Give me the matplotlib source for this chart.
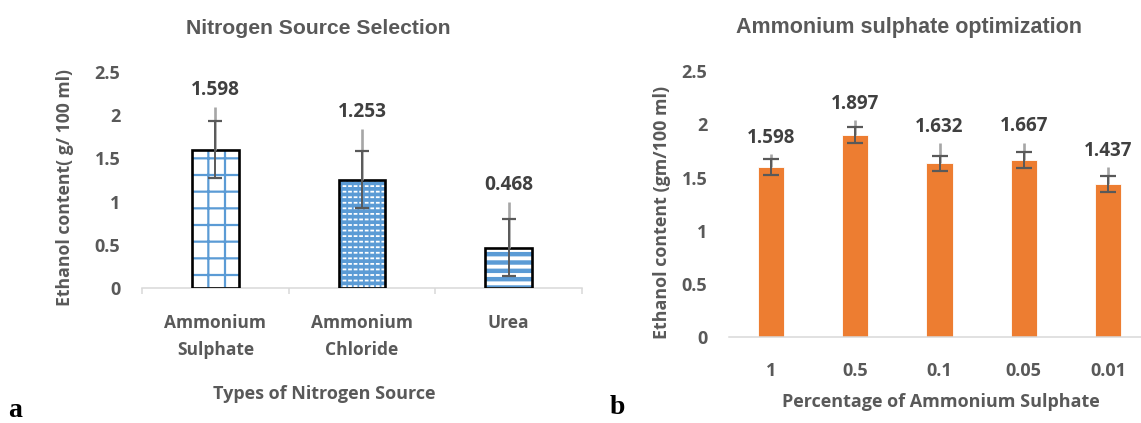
import matplotlib
matplotlib.use("Agg")
import matplotlib.pyplot as plt

# ---- data ----
sources = ["Ammonium\nSulphate", "Ammonium\nChloride", "Urea"]
source_ethanol = [1.598, 1.253, 0.468]
source_err = [0.33, 0.33, 0.33]
source_err_high = [0.50, 0.59, 0.53]

percent_labels = ["1", "0.5", "0.1", "0.05", "0.01"]
percent_ethanol = [1.598, 1.897, 1.632, 1.667, 1.437]
percent_err = [0.075, 0.075, 0.072, 0.075, 0.074]
percent_err_high = [0.12, 0.14, 0.19, 0.16, 0.16]

yticks = [0, 0.5, 1, 1.5, 2, 2.5]
ytick_labels = ["0", "0.5", "1", "1.5", "2", "2.5"]

# ---- style ----
W, H = 1141, 423
TXT = "#595959"
VAL = "#404040"
AXIS = "#d9d9d9"
BLUE = "#5b9bd5"
ORANGE = "#ed7d31"
CAP = "#595959"
LIGHT = "#a6a6a6"
SANS = ["Open Sans", "DejaVu Sans"]
HEAD = ["Liberation Sans", "DejaVu Sans"]
SERIF = ["Liberation Serif", "DejaVu Serif"]

fig = plt.figure(figsize=(W / 100, H / 100), dpi=100)


def px_axes(x0, y0, x1, y1):
    return fig.add_axes([x0 / W, 1 - y1 / H, (x1 - x0) / W, (y1 - y0) / H])


def style_axes(ax, fs):
    for s in ("top", "right", "left"):
        ax.spines[s].set_visible(False)
    ax.spines["bottom"].set_color(AXIS)
    ax.spines["bottom"].set_linewidth(1.1)
    ax.set_ylim(0, 2.5)
    ax.set_yticks(yticks)
    ax.set_yticklabels(ytick_labels, fontfamily=SANS, fontweight="bold",
                       fontsize=fs, color=TXT)
    ax.tick_params(axis="y", length=0, pad=15.5)


def hatch_lw(patch, lw):
    if hasattr(patch, "set_hatch_linewidth"):
        patch.set_hatch_linewidth(lw)


def error_bars(ax, x, vals, err, err_high, cap_w):
    # light upper whisker
    ax.vlines(x, [v for v in vals], [v + e for v, e in zip(vals, err_high)],
              color=LIGHT, lw=1.9, zorder=4)
    # dark symmetric bar with caps
    ax.errorbar(x, vals, yerr=err, fmt="none", ecolor=CAP, elinewidth=1.4,
                capsize=cap_w, capthick=1.6, zorder=5)


def value_labels(ax, x, vals, err_high, fs):
    for xi, v, e in zip(x, vals, err_high):
        ax.annotate(f"{v:.3f}", (xi, v + e), xytext=(0, 12), textcoords="offset points",
                    ha="center", va="center", fontfamily=SANS, fontweight="bold",
                    fontsize=fs, color=VAL, zorder=6)


# ================= panel a =================
ax1 = px_axes(142, 72, 582, 288)
style_axes(ax1, 13)
x1 = list(range(len(sources)))
ax1.set_xlim(-0.5, len(sources) - 0.5)
bw = 0.32

# Ammonium sulphate: blue grid on white
b = ax1.bar(x1[0], source_ethanol[0], bw, color="white", edgecolor=BLUE,
            hatch="+", linewidth=0, zorder=2)
hatch_lw(b[0], 1.6)
# Ammonium chloride: white dashes on blue
b = ax1.bar(x1[1], source_ethanol[1], bw, color=BLUE, edgecolor="white",
            hatch="---", linewidth=0, zorder=2)
hatch_lw(b[0], 1.3)
b = ax1.bar(x1[1], source_ethanol[1], bw, fill=False, edgecolor=BLUE,
            hatch="|||", linewidth=0, zorder=2)
hatch_lw(b[0], 1.3)
# Urea: blue horizontal stripes
b = ax1.bar(x1[2], source_ethanol[2], bw, color="white", edgecolor=BLUE,
            hatch="--", linewidth=0, zorder=2)
hatch_lw(b[0], 3.2)
# outlines
ax1.bar(x1, source_ethanol, bw, fill=False, edgecolor="black", linewidth=1.9, zorder=3)

error_bars(ax1, x1, source_ethanol, source_err, source_err_high, 5)
value_labels(ax1, x1, source_ethanol, source_err_high, 13.8)

ax1.set_xticks([i - 0.5 for i in range(len(sources) + 1)])
ax1.set_xticklabels([])
ax1.tick_params(axis="x", which="major", length=4.5, color=AXIS, width=1.1)
ax1.set_xticks(x1, minor=True)
ax1.set_xticklabels(sources, minor=True, fontfamily=SANS, fontweight="bold",
                    fontsize=12.5, color=TXT, linespacing=1.6)
ax1.tick_params(axis="x", which="minor", length=0, pad=19)

fig.text(65 / W, 1 - 188 / H, "Ethanol content( g/ 100 ml)", rotation=90,
         ha="center", va="center", fontfamily=SANS, fontweight="bold",
         fontsize=12.7, color=TXT)
fig.text(324 / W, 1 - 394 / H, "Types of Nitrogen Source", ha="center", va="center",
         fontfamily=SANS, fontweight="bold", fontsize=13, color=TXT)
fig.text(318 / W, 1 - 28 / H, "Nitrogen Source Selection", ha="center", va="center",
         fontfamily=HEAD, fontweight="bold", fontsize=15.2, color=TXT)
fig.text(8 / W, 1 - 410 / H, "a", ha="left", va="center", fontfamily=SERIF,
         fontweight="bold", fontsize=20, color="black")

# ================= panel b =================
ax2 = px_axes(729, 71, 1150, 337.3)
style_axes(ax2, 13)
x2 = list(range(len(percent_labels)))
ax2.set_xlim(-0.5, len(percent_labels) - 0.5)
ax2.bar(x2, percent_ethanol, 0.31, color=ORANGE, edgecolor="white", linewidth=0.6, zorder=2)
error_bars(ax2, x2, percent_ethanol, percent_err, percent_err_high, 6)
value_labels(ax2, x2, percent_ethanol, percent_err_high, 13.5)
ax2.set_xticks(x2)
ax2.set_xticklabels(percent_labels, fontfamily=SANS, fontweight="bold",
                    fontsize=13, color=TXT)
ax2.tick_params(axis="x", length=0, pad=18)

fig.text(662 / W, 1 - 212 / H, "Ethanol content (gm/100 ml)", rotation=90,
         ha="center", va="center", fontfamily=SANS, fontweight="bold",
         fontsize=12.9, color=TXT)
fig.text(941 / W, 1 - 402 / H, "Percentage of Ammonium Sulphate", ha="center",
         va="center", fontfamily=SANS, fontweight="bold", fontsize=13, color=TXT)
fig.text(909 / W, 1 - 28 / H, "Ammonium sulphate optimization", ha="center",
         va="center", fontfamily=HEAD, fontweight="bold", fontsize=15.5, color=TXT)
fig.text(610 / W, 1 - 407 / H, "b", ha="left", va="center", fontfamily=SERIF,
         fontweight="bold", fontsize=20, color="black")

fig.savefig("out.png", dpi=100, facecolor="white")
